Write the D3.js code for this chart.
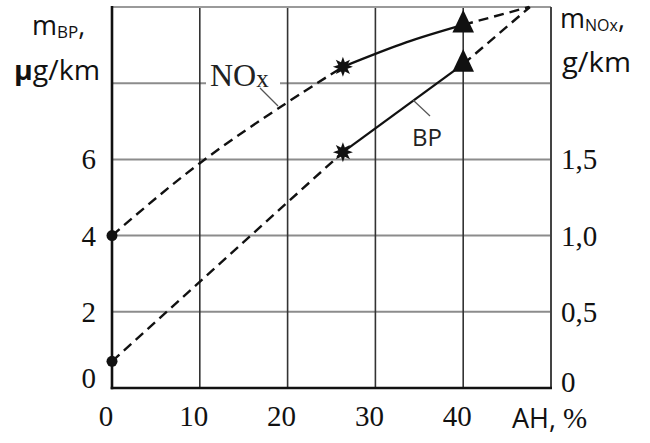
<!DOCTYPE html>
<html><head><meta charset="utf-8">
<script src="https://cdn.jsdelivr.net/npm/d3@7"></script>
<style>html,body{margin:0;padding:0;background:#fff;}svg{display:block;}</style>
</head><body>
<svg id="chart" width="650" height="443"></svg>
<script>
// ---- data ----
const xTicks = [0, 10, 20, 30, 40];
const xTickLabels = ["0", "10", "20", "30", "40"];
const yLeftTicks = [0, 2, 4, 6];
const yLeftLabels = ["0", "2", "4", "6"];
const yRightTicks = [0, 2, 4, 6];          // positions on the left scale
const yRightLabels = ["0", "0,5", "1,0", "1,5"];
const hGrid = [2, 4, 6, 8];
const vGrid = [10, 20, 30, 40];

// NOx (plotted on left scale, right axis = left/4)
const noxDashedStart = [[0, 4.0], [10, 5.9], [20, 7.5], [26.3, 8.43]];
const noxSolid = [[26.3, 8.43], [33.5, 9.07], [40, 9.53]];
const noxDashedEnd = [[40, 9.53], [47.5, 10]];
// BP
const bpDashedStart = [[0, 0.7], [26.3, 6.19]];
const bpSolid = [[26.3, 6.19], [40, 8.5]];
const bpDashedEnd = [[40, 8.5], [47.6, 10]];

const dots = [[0, 4.0], [0, 0.7]];
const stars = [[26.3, 8.43], [26.3, 6.19]];
const triangles = [[40, 9.53], [40, 8.5]];

// ---- scales ----
const x = d3.scaleLinear().domain([0, 50]).range([112, 551]);
const y = d3.scaleLinear().domain([0, 10]).range([388, 7]);

const svg = d3.select("#chart");
const serif = "'Liberation Serif','DejaVu Serif',serif";
const sans = "'Open Sans','Liberation Sans',sans-serif";

// grid
svg.append("g").selectAll("line").data(hGrid).join("line")
  .attr("x1", x(0)).attr("x2", x(50)).attr("y1", d => y(d)).attr("y2", d => y(d))
  .attr("stroke", "#8c8c8c").attr("stroke-width", 2);
svg.append("g").selectAll("line").data(vGrid).join("line")
  .attr("x1", d => x(d)).attr("x2", d => x(d)).attr("y1", y(0)).attr("y2", y(10))
  .attr("stroke", "#333").attr("stroke-width", 1.6);
// frame
svg.append("line").attr("x1", x(0)).attr("x2", x(50)).attr("y1", y(10)).attr("y2", y(10))
  .attr("stroke", "#9a9a9a").attr("stroke-width", 2);
svg.append("line").attr("x1", x(50)).attr("x2", x(50)).attr("y1", y(0)).attr("y2", y(10))
  .attr("stroke", "#444").attr("stroke-width", 2);
svg.append("line").attr("x1", x(0)).attr("x2", x(0)).attr("y1", y(0)+1.3).attr("y2", y(10)-1)
  .attr("stroke", "#111").attr("stroke-width", 2.6);
svg.append("line").attr("x1", x(0)-1.3).attr("x2", x(50)+1).attr("y1", y(0)).attr("y2", y(0))
  .attr("stroke", "#111").attr("stroke-width", 2.6);

// tick labels
svg.append("g").selectAll("text").data(xTicks).join("text")
  .attr("x", d => x(d) - 6).attr("y", 416).attr("text-anchor", "middle")
  .attr("dominant-baseline", "central")
  .attr("font-family", serif).attr("font-size", 29).attr("fill", "#111")
  .text((d, i) => xTickLabels[i]);
svg.append("g").selectAll("text").data(yLeftTicks).join("text")
  .attr("x", 96).attr("y", d => d === 0 ? y(d) - 10 : y(d)).attr("text-anchor", "end")
  .attr("dominant-baseline", "central")
  .attr("font-family", serif).attr("font-size", 29).attr("fill", "#111")
  .text((d, i) => yLeftLabels[i]);
svg.append("g").selectAll("text").data(yRightTicks).join("text")
  .attr("x", 561).attr("y", d => d === 0 ? y(d) - 6 : y(d)).attr("text-anchor", "start")
  .attr("dominant-baseline", "central")
  .attr("font-family", serif).attr("font-size", 29).attr("fill", "#111")
  .text((d, i) => yRightLabels[i]);

// axis titles
const t1 = svg.append("text").attr("x", 32).attr("y", 35)
  .attr("font-family", sans).attr("font-size", 27).attr("fill", "#111");
t1.append("tspan").text("m");
t1.append("tspan").attr("font-size", 17).attr("dy", 3).text("BP");
t1.append("tspan").attr("dy", -3).text(",");
svg.append("text").attr("x", 14).attr("y", 80)
  .attr("font-family", sans).attr("font-size", 27).attr("fill", "#111")
  .attr("textLength", 86).attr("lengthAdjust", "spacingAndGlyphs")
  .html('<tspan font-weight="bold">μ</tspan>g/km');
const t2 = svg.append("text").attr("x", 560).attr("y", 28)
  .attr("font-family", sans).attr("font-size", 27).attr("fill", "#111");
t2.append("tspan").text("m");
t2.append("tspan").attr("font-size", 16).attr("dy", 3).text("NOx");
t2.append("tspan").attr("dy", -3).text(",");
svg.append("text").attr("x", 562).attr("y", 72)
  .attr("font-family", sans).attr("font-size", 27).attr("fill", "#111")
  .attr("textLength", 69).attr("lengthAdjust", "spacingAndGlyphs").text("g/km");
const t3 = svg.append("text").attr("x", 512).attr("y", 428)
  .attr("font-family", sans).attr("font-size", 27).attr("fill", "#111");
t3.append("tspan").text("AH, ");
t3.append("tspan").attr("font-family", serif).attr("font-size", 29).text("%");

// series lines
const line = d3.line().x(d => x(d[0])).y(d => y(d[1]));
const curve = d3.line().x(d => x(d[0])).y(d => y(d[1])).curve(d3.curveNatural);
const dash = "10,6";
function draw(data, gen, dashed) {
  svg.append("path").datum(data).attr("d", gen).attr("fill", "none")
    .attr("stroke", "#111").attr("stroke-width", dashed ? 2.4 : 2.3)
    .attr("stroke-dasharray", dashed ? dash : null);
}
draw(noxDashedStart, curve, true);
draw(noxSolid, curve, false);
draw(noxDashedEnd, line, true);
draw(bpDashedStart, line, true);
draw(bpSolid, line, false);
draw(bpDashedEnd, line, true);

// labels NOx, BP with leaders
svg.append("rect").attr("x", 206).attr("y", 62).attr("width", 74).attr("height", 30).attr("fill", "#fff");
const nl = svg.append("text").attr("x", 210).attr("y", 86)
  .attr("font-family", serif).attr("font-size", 32).attr("fill", "#222");
nl.append("tspan").text("NO");
nl.append("tspan").attr("font-size", 25).attr("dy", 1).text("x");
svg.append("line").attr("x1", 260).attr("y1", 88).attr("x2", 278).attr("y2", 106)
  .attr("stroke", "#555").attr("stroke-width", 1.2);
svg.append("text").attr("x", 412).attr("y", 146)
  .attr("font-family", sans).attr("font-size", 24).attr("fill", "#222").text("BP");
svg.append("line").attr("x1", 413).attr("y1", 100).attr("x2", 430).attr("y2", 116)
  .attr("stroke", "#555").attr("stroke-width", 1.2);

// markers
svg.append("g").selectAll("circle").data(dots).join("circle")
  .attr("cx", d => x(d[0])).attr("cy", d => y(d[1])).attr("r", 5.5).attr("fill", "#111");
const starPts = d3.range(16).map(i => [i * Math.PI / 8, i % 2 ? 5 : 10]);
const starPath = d3.lineRadial().curve(d3.curveLinearClosed)(starPts);
svg.append("g").selectAll("path").data(stars).join("path")
  .attr("transform", d => `translate(${x(d[0])},${y(d[1])})`)
  .attr("d", starPath).attr("fill", "#111");
svg.append("g").selectAll("path").data(triangles).join("path")
  .attr("transform", d => `translate(${x(d[0])},${y(d[1])}) scale(0.9,1.1)`)
  .attr("d", d3.symbol(d3.symbolTriangle, 250)).attr("fill", "#111");
</script>
</body></html>
